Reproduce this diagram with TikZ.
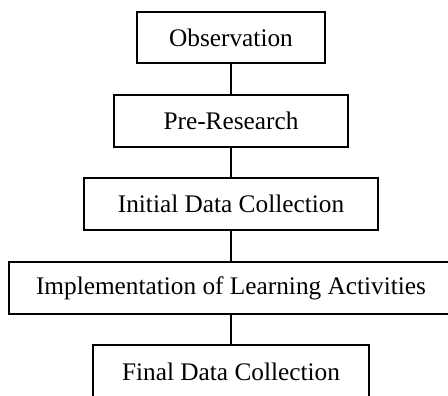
\documentclass[tikz,border=0pt]{standalone}
\usepackage{fontspec}
\setmainfont{Liberation Serif}
\begin{document}
\begin{tikzpicture}[x=1pt,y=1pt,
  stagebox/.style={draw, line width=1.7pt, rectangle, inner sep=0pt, anchor=center,
    font=\fontsize{25.3}{29}\selectfont},
  link/.style={draw, line width=1.1pt}]
\clip (0,0) rectangle (448,-396);
\node[stagebox, minimum width=188, minimum height=51] (obs) at (231,-37.5) {Observation};
\node[stagebox, minimum width=234, minimum height=52] (pre) at (231,-121) {Pre-Research};
\node[stagebox, minimum width=294, minimum height=52] (ini) at (231,-204) {Initial Data Collection};
\node[stagebox, minimum width=444, minimum height=52] (imp) at (231,-288) {Implementation of Learning Activities};
\node[stagebox, minimum width=276, minimum height=54] (fin) at (231,-372) {Final Data Collection};
\draw[link] (obs.south) -- (pre.north);
\draw[link] (pre.south) -- (ini.north);
\draw[link] (ini.south) -- (imp.north);
\draw[link] (imp.south) -- (fin.north);
\end{tikzpicture}
\end{document}
